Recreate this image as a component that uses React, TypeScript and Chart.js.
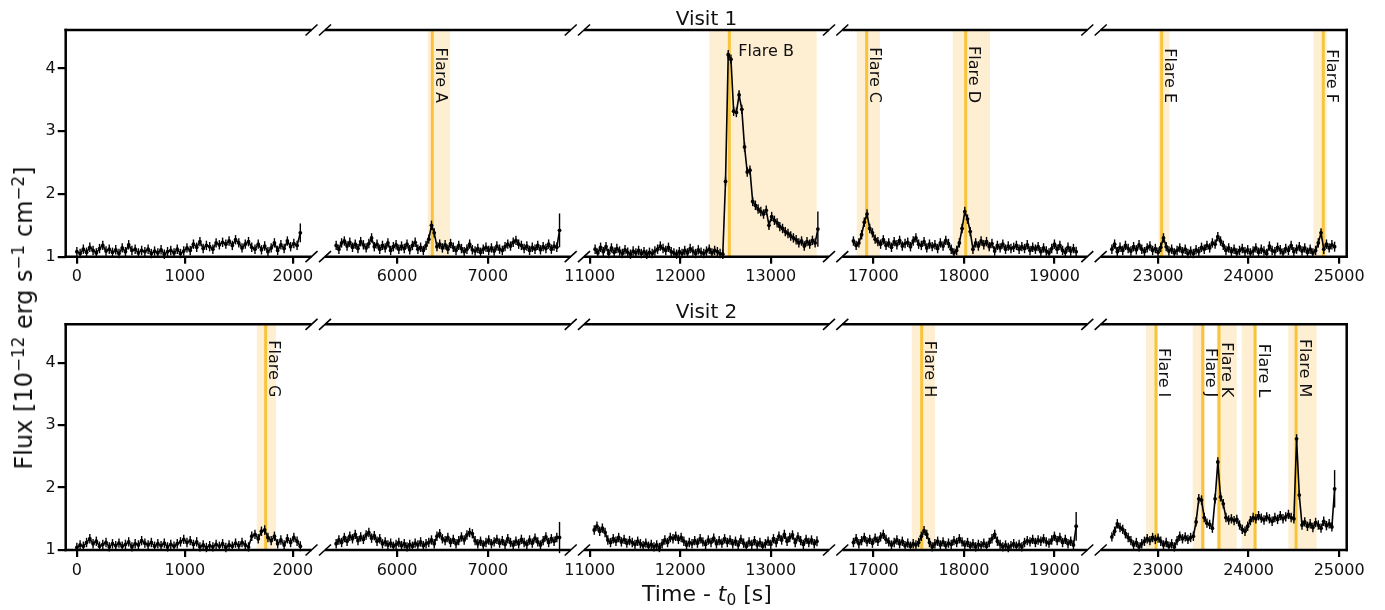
import { useEffect, useRef } from "react";
import { Chart, registerables } from "chart.js";

Chart.register(...registerables);

const FIG_W = 1385;
const FIG_H = 610;
const FONT = "'DejaVu Sans', sans-serif";

// ---------- axes of the five broken-axis columns ----------
const COL_MIN = [-103.5, 5207, 10937, 16657, 22366.5];
const COL_MAX = [2173.5, 7913, 13643, 19363, 25083.5];
const COL_TICKS = [
  [0, 1000, 2000],
  [6000, 7000],
  [11000, 12000, 13000],
  [17000, 18000, 19000],
  [23000, 24000, 25000],
];
const Y_TICKS = [1, 2, 3, 4];
const Y_MIN = 1;
const Y_MAX = 4.615;

// ---------- light-curve data (30 s bins) ----------
const BIN_S = 30;
const V1_START = [0, 5330, 11060, 16780, 22490];
const V2_START = [0, 5330, 11050, 16780, 22490];
const FLUX_ERR = 0.075;
const V1_LAST_ERR = [0.15, 0.27, 0.28, 0.08, 0.08];
const V2_LAST_ERR = [0.08, 0.25, 0.08, 0.23, 0.3];

const V1_FLUX_1 = [
  1.08, 1.05, 1.12, 1.07, 1.15, 1.1, 1.06, 1.13, 1.18, 1.09, 1.12,
  1.07, 1.11, 1.05, 1.14, 1.08, 1.19, 1.1, 1.12, 1.06, 1.1, 1.08,
  1.12, 1.05, 1.09, 1.06, 1.11, 1.04, 1.08, 1.1, 1.06, 1.12, 1.05, 1.09,
  1.14, 1.1, 1.2, 1.15, 1.24, 1.13, 1.18, 1.16, 1.12, 1.22, 1.19,
  1.23, 1.2, 1.25, 1.18, 1.27, 1.22, 1.14, 1.2, 1.24, 1.15, 1.12,
  1.2, 1.11, 1.17, 1.08, 1.14, 1.22, 1.1, 1.19, 1.13, 1.25, 1.16, 1.21, 1.18, 1.38,
];
const V1_FLUX_2 = [
  1.18, 1.12, 1.22, 1.25, 1.17, 1.23, 1.15, 1.2, 1.13, 1.24, 1.19,
  1.14, 1.21, 1.3, 1.16, 1.2, 1.12, 1.18, 1.14, 1.22, 1.1, 1.16,
  1.19, 1.12, 1.17, 1.13, 1.2, 1.11, 1.18, 1.23, 1.12, 1.15, 1.1,
  1.18, 1.28, 1.5, 1.38, 1.16, 1.2, 1.14, 1.19, 1.12, 1.21, 1.15,
  1.1, 1.18, 1.13, 1.08, 1.12, 1.2, 1.11, 1.09, 1.13, 1.07, 1.12,
  1.15, 1.1, 1.14, 1.09, 1.17, 1.12, 1.1, 1.16, 1.2, 1.17, 1.23,
  1.26, 1.2, 1.18, 1.13, 1.17, 1.1, 1.15, 1.12, 1.18, 1.11, 1.16,
  1.13, 1.2, 1.12, 1.17, 1.15, 1.42,
];
const V1_FLUX_3 = [
  1.12, 1.06, 1.15, 1.08, 1.16, 1.05, 1.14, 1.07, 1.13, 1.09,
  1.05, 1.11, 1.07, 1.04, 1.09, 1.06, 1.1, 1.05, 1.08, 1.04,
  1.07, 1.05, 1.09, 1.12, 1.17, 1.13, 1.1, 1.15, 1.08, 1.06,
  1.04, 1.08, 1.05, 1.1, 1.06, 1.13, 1.09, 1.05, 1.11, 1.07,
  1.05, 1.09, 1.12, 1.06, 1.1, 1.08, 1.05, 1.04,
  2.2, 4.22, 4.15, 3.32, 3.3, 3.58, 3.35, 2.75, 2.35, 2.38,
  1.88, 1.82, 1.76, 1.72, 1.68, 1.74, 1.5, 1.64, 1.58, 1.54,
  1.48, 1.45, 1.4, 1.37, 1.33, 1.3, 1.27, 1.22, 1.25, 1.17,
  1.24, 1.2, 1.26, 1.22, 1.44,
];
const V1_FLUX_4 = [
  1.25, 1.18, 1.22, 1.35, 1.55, 1.68, 1.45, 1.38, 1.28, 1.24,
  1.2, 1.27, 1.18, 1.22, 1.15, 1.24, 1.19, 1.26, 1.17, 1.21,
  1.23, 1.16, 1.25, 1.3, 1.2, 1.18, 1.24, 1.14, 1.2, 1.16,
  1.19, 1.13, 1.22, 1.17, 1.26, 1.21, 1.12, 1.06, 1.1, 1.22,
  1.45, 1.72, 1.6, 1.4, 1.12, 1.22, 1.17, 1.25, 1.19, 1.24,
  1.16, 1.21, 1.09, 1.18, 1.14, 1.2, 1.12, 1.17, 1.13, 1.15,
  1.18, 1.12, 1.16, 1.13, 1.19, 1.1, 1.15, 1.12, 1.16, 1.08,
  1.14, 1.09, 1.06, 1.13, 1.2, 1.12, 1.18, 1.1, 1.07, 1.15,
  1.09, 1.13, 1.08,
];
const V1_FLUX_5 = [
  1.12, 1.2, 1.08, 1.15, 1.1, 1.18, 1.13, 1.09, 1.16, 1.11,
  1.19, 1.12, 1.08, 1.14, 1.17, 1.1, 1.13, 1.07, 1.15, 1.3,
  1.16, 1.09, 1.12, 1.06, 1.1, 1.14, 1.08, 1.12, 1.05, 1.09,
  1.05, 1.11, 1.08, 1.15, 1.12, 1.18, 1.14, 1.22, 1.2, 1.32,
  1.25, 1.18, 1.1, 1.14, 1.08, 1.12, 1.06, 1.1, 1.13, 1.08,
  1.11, 1.06, 1.09, 1.14, 1.07, 1.12, 1.09, 1.05, 1.17, 1.1,
  1.08, 1.15, 1.11, 1.06, 1.13, 1.1, 1.18, 1.08, 1.12, 1.16,
  1.09, 1.14, 1.07, 1.12, 1.06, 1.1, 1.22, 1.38, 1.12, 1.2,
  1.14, 1.19, 1.16,
];

const V2_FLUX_1 = [
  1.04, 1.08, 1.06, 1.12, 1.18, 1.1, 1.14, 1.06, 1.09, 1.12,
  1.05, 1.1, 1.07, 1.11, 1.06, 1.09, 1.13, 1.05, 1.1, 1.08,
  1.15, 1.11, 1.08, 1.12, 1.06, 1.1, 1.07, 1.11, 1.05, 1.09,
  1.06, 1.1, 1.13, 1.17, 1.12, 1.15, 1.09, 1.13, 1.05, 1.08,
  1.04, 1.07, 1.05, 1.09, 1.06, 1.1, 1.04, 1.08, 1.06, 1.11,
  1.07, 1.12, 1.08, 1.05, 1.22, 1.25, 1.18, 1.3, 1.32, 1.2,
  1.15, 1.22, 1.1, 1.16, 1.08, 1.18, 1.12, 1.2, 1.14, 1.06,
];
const V2_FLUX_2 = [
  1.1, 1.16, 1.12, 1.2, 1.14, 1.22, 1.18, 1.25, 1.15, 1.21,
  1.17, 1.24, 1.28, 1.19, 1.23, 1.14, 1.18, 1.1, 1.13, 1.08,
  1.11, 1.06, 1.09, 1.12, 1.07, 1.1, 1.05, 1.09, 1.06, 1.11,
  1.08, 1.13, 1.07, 1.1, 1.12, 1.16, 1.1, 1.22, 1.26, 1.18,
  1.15, 1.2, 1.12, 1.17, 1.1, 1.15, 1.21, 1.16, 1.24, 1.28,
  1.26, 1.15, 1.1, 1.14, 1.08, 1.12, 1.16, 1.1, 1.13, 1.17,
  1.11, 1.15, 1.09, 1.18, 1.12, 1.08, 1.14, 1.1, 1.17, 1.12,
  1.09, 1.16, 1.11, 1.19, 1.13, 1.08, 1.15, 1.21, 1.12, 1.18,
  1.14, 1.2, 1.2,
];
const V2_FLUX_3 = [
  1.32, 1.38, 1.3, 1.35, 1.28, 1.16, 1.12, 1.18, 1.14, 1.2,
  1.13, 1.17, 1.11, 1.15, 1.12, 1.09, 1.14, 1.1, 1.07, 1.11,
  1.06, 1.09, 1.05, 1.08, 1.04, 1.1, 1.16, 1.12, 1.2, 1.18,
  1.22, 1.17, 1.2, 1.14, 1.08, 1.12, 1.1, 1.15, 1.11, 1.18,
  1.13, 1.09, 1.16, 1.12, 1.19, 1.1, 1.15, 1.11, 1.18, 1.12,
  1.16, 1.1, 1.14, 1.08, 1.17, 1.11, 1.06, 1.13, 1.09, 1.15,
  1.08, 1.12, 1.06, 1.1, 1.14, 1.09, 1.18, 1.12, 1.22, 1.16,
  1.25, 1.14, 1.2, 1.24, 1.12, 1.21, 1.15, 1.09, 1.17, 1.12,
  1.16, 1.1, 1.14,
];
const V2_FLUX_4 = [
  1.12, 1.18, 1.1, 1.15, 1.2, 1.13, 1.17, 1.11, 1.19, 1.14,
  1.21, 1.25, 1.17, 1.13, 1.08, 1.12, 1.16, 1.1, 1.14, 1.07,
  1.11, 1.06, 1.1, 1.08, 1.12, 1.22, 1.31, 1.25, 1.12, 1.05,
  1.1, 1.14, 1.08, 1.13, 1.07, 1.11, 1.09, 1.15, 1.12, 1.18,
  1.13, 1.08, 1.12, 1.06, 1.1, 1.05, 1.09, 1.07, 1.11, 1.06,
  1.12, 1.18, 1.25, 1.14, 1.09, 1.05, 1.08, 1.04, 1.07, 1.1,
  1.06, 1.09, 1.05, 1.12, 1.15, 1.13, 1.17, 1.12, 1.16, 1.14,
  1.18, 1.13, 1.11, 1.16, 1.22, 1.15, 1.2, 1.12, 1.17, 1.1,
  1.14, 1.08, 1.38,
];
const V2_FLUX_5 = [
  1.21, 1.3, 1.42, 1.36, 1.33, 1.26, 1.2, 1.15, 1.08, 1.12,
  1.05, 1.1, 1.14, 1.18, 1.15, 1.2, 1.17, 1.19, 1.14, 1.08,
  1.12, 1.06, 1.1, 1.05, 1.15, 1.22, 1.18, 1.21, 1.17, 1.2,
  1.22, 1.45, 1.82, 1.8, 1.52, 1.43, 1.41, 1.35, 1.82, 2.41,
  1.85, 1.74, 1.52, 1.48, 1.5, 1.47, 1.49, 1.4, 1.33, 1.3,
  1.38, 1.47, 1.52, 1.5, 1.55, 1.51, 1.48, 1.53, 1.5, 1.46,
  1.52, 1.49, 1.55, 1.5, 1.53, 1.57, 1.52, 1.5, 2.78, 1.88,
  1.4, 1.45, 1.38, 1.42, 1.36, 1.44, 1.4, 1.35, 1.46, 1.39,
  1.42, 1.37, 1.98,
];

const V1_FLUX = [V1_FLUX_1, V1_FLUX_2, V1_FLUX_3, V1_FLUX_4, V1_FLUX_5];
const V2_FLUX = [V2_FLUX_1, V2_FLUX_2, V2_FLUX_3, V2_FLUX_4, V2_FLUX_5];

// ---------- flares: peak line and highlighted interval ----------
const V1_FLARE_NAMES = ["A", "B", "C", "D", "E", "F"];
const V1_FLARE_PEAK = [6389, 12542, 16926, 18020, 23040, 24825];
const V1_FLARE_START = [6338, 12321, 16816, 17877, 23003, 24715];
const V1_FLARE_END = [6584, 13507, 17073, 18288, 23125, 24863];
const V2_FLARE_NAMES = ["G", "H", "I", "J", "K", "L", "M"];
const V2_FLARE_PEAK = [1749, 17534, 22977, 23493, 23673, 24071, 24524];
const V2_FLARE_START = [1666, 17424, 22867, 23383, 23648, 23924, 24438];
const V2_FLARE_END = [1845, 17681, 22995, 23519, 23869, 24089, 24752];

// ---------- layout (pixels) ----------
const COL_LEFT = [65.7, 325, 584, 842.3, 1100.7];
const COL_RIGHT = [311.5, 570.7, 829, 1087.3, 1346.7];
const ROW_TOP = [30, 324.3];
const ROW_BOTTOM = [256.7, 550];
const X_AXIS_H = 30;
const Y_AXIS_W = 45;

const SHADE_COLOR = "rgba(250, 190, 80, 0.25)";
const PEAK_COLOR = "#f8c43c";
const INK = "#111";

function Panel({ row, col }: { row: number; col: number }) {
  const ref = useRef<HTMLCanvasElement | null>(null);

  useEffect(() => {
    const canvas = ref.current;
    if (!canvas) return;
    const flux = (row === 0 ? V1_FLUX : V2_FLUX)[col];
    const start = (row === 0 ? V1_START : V2_START)[col];
    const lastErr = (row === 0 ? V1_LAST_ERR : V2_LAST_ERR)[col];
    const names = row === 0 ? V1_FLARE_NAMES : V2_FLARE_NAMES;
    const peaks = row === 0 ? V1_FLARE_PEAK : V2_FLARE_PEAK;
    const starts = row === 0 ? V1_FLARE_START : V2_FLARE_START;
    const ends = row === 0 ? V1_FLARE_END : V2_FLARE_END;
    const flares = names
      .map((n, i) => ({ name: n, peak: peaks[i], start: starts[i], end: ends[i] }))
      .filter((f) => f.peak >= COL_MIN[col] && f.peak <= COL_MAX[col]);

    const L = COL_LEFT[col];
    const R = COL_RIGHT[col];
    const T = ROW_TOP[row];
    const B = ROW_BOTTOM[row];
    const showY = col === 0;

    const points = flux.map((v, i) => ({ x: start + i * BIN_S, y: v }));

    const decor = {
      id: "decor" + row + col,
      beforeDraw(chart: any) {
        const { ctx, chartArea: a, scales } = chart;
        const xs = scales.x;
        ctx.save();
        ctx.beginPath();
        ctx.rect(a.left, a.top, a.right - a.left, a.bottom - a.top);
        ctx.clip();
        ctx.fillStyle = SHADE_COLOR;
        for (const f of flares) {
          const x0 = xs.getPixelForValue(f.start);
          const x1 = xs.getPixelForValue(f.end);
          ctx.fillRect(x0, a.top, x1 - x0, a.bottom - a.top);
        }
        ctx.strokeStyle = PEAK_COLOR;
        ctx.lineWidth = 3;
        for (const f of flares) {
          const xp = xs.getPixelForValue(f.peak);
          ctx.beginPath();
          ctx.moveTo(xp, a.top);
          ctx.lineTo(xp, a.bottom);
          ctx.stroke();
        }
        ctx.restore();
      },
      beforeDatasetsDraw(chart: any) {
        const { ctx, scales } = chart;
        const xs = scales.x;
        const ys = scales.y;
        ctx.save();
        ctx.strokeStyle = "#000";
        ctx.lineWidth = 1.4;
        flux.forEach((v, i) => {
          const e = i === flux.length - 1 ? lastErr : FLUX_ERR;
          const xp = xs.getPixelForValue(start + i * BIN_S);
          ctx.beginPath();
          ctx.moveTo(xp, ys.getPixelForValue(v - e));
          ctx.lineTo(xp, ys.getPixelForValue(v + e));
          ctx.stroke();
        });
        ctx.restore();
      },
      afterDraw(chart: any) {
        const { ctx, chartArea: a, scales } = chart;
        const xs = scales.x;
        ctx.save();
        // flare labels
        ctx.fillStyle = INK;
        ctx.font = "16px " + FONT;
        for (const f of flares) {
          const xp = xs.getPixelForValue(f.peak);
          const label = "Flare " + f.name;
          if (f.name === "B") {
            ctx.textAlign = "left";
            ctx.textBaseline = "alphabetic";
            ctx.fillText(label, xp + 9, a.top + 26);
          } else {
            ctx.save();
            ctx.translate(xp + 3.5, a.top + 73);
            ctx.rotate(Math.PI / 2);
            ctx.textAlign = "right";
            ctx.textBaseline = "alphabetic";
            ctx.fillText(label, 0, 0);
            ctx.restore();
          }
        }
        // spines
        ctx.strokeStyle = "#000";
        ctx.lineWidth = 2.5;
        ctx.lineCap = "butt";
        const ext = 1.25;
        const l0 = col === 0 ? a.left - ext : a.left;
        const r0 = col === 4 ? a.right + ext : a.right;
        const seg = (x1: number, y1: number, x2: number, y2: number) => {
          ctx.beginPath();
          ctx.moveTo(x1, y1);
          ctx.lineTo(x2, y2);
          ctx.stroke();
        };
        seg(l0, a.top, r0, a.top);
        seg(l0, a.bottom, r0, a.bottom);
        if (col === 0) seg(a.left, a.top - ext, a.left, a.bottom + ext);
        if (col === 4) seg(a.right, a.top - ext, a.right, a.bottom + ext);
        // break marks
        ctx.lineWidth = 1.6;
        const mark = (x: number, y: number) => seg(x - 6, y + 5.5, x + 6, y - 5.5);
        if (col > 0) {
          mark(a.left, a.top);
          mark(a.left, a.bottom);
        }
        if (col < 4) {
          mark(a.right, a.top);
          mark(a.right, a.bottom);
        }
        ctx.restore();
      },
    };

    const tickFont = { family: FONT, size: 16 };

    const chart = new Chart(canvas, {
      type: "line",
      data: {
        datasets: [
          {
            data: points,
            borderColor: "#000",
            borderWidth: 1.6,
            pointRadius: 1.9,
            pointBackgroundColor: "#000",
            pointBorderWidth: 0,
            tension: 0,
          },
        ],
      },
      options: {
        responsive: false,
        maintainAspectRatio: false,
        animation: false,
        events: [],
        layout: {
          padding: {
            left: showY ? L - Y_AXIS_W : L,
            right: FIG_W - R,
            top: T,
            bottom: FIG_H - B - X_AXIS_H,
          },
        },
        plugins: {
          legend: { display: false },
          tooltip: { enabled: false },
          title: { display: false },
        },
        scales: {
          x: {
            type: "linear",
            min: COL_MIN[col],
            max: COL_MAX[col],
            afterBuildTicks: (s: any) => {
              s.ticks = COL_TICKS[col].map((v) => ({ value: v }));
            },
            afterFit: (s: any) => {
              s.height = X_AXIS_H;
            },
            grid: {
              display: true,
              drawOnChartArea: false,
              drawTicks: true,
              tickLength: 7,
              tickWidth: 2.2,
              tickColor: "#000",
              color: "#000",
              lineWidth: 2.2,
            },
            border: { display: false },
            ticks: {
              autoSkip: false,
              maxRotation: 0,
              minRotation: 0,
              padding: 4,
              color: INK,
              font: tickFont,
              callback: (v: any) => String(v),
            },
          },
          y: {
            type: "linear",
            display: showY,
            min: Y_MIN,
            max: Y_MAX,
            afterBuildTicks: (s: any) => {
              s.ticks = Y_TICKS.map((v) => ({ value: v }));
            },
            afterFit: (s: any) => {
              if (showY) s.width = Y_AXIS_W;
            },
            grid: {
              display: true,
              drawOnChartArea: false,
              drawTicks: true,
              tickLength: 8,
              tickWidth: 2.2,
              tickColor: "#000",
              color: "#000",
              lineWidth: 2.2,
            },
            border: { display: false },
            ticks: {
              padding: 2,
              color: INK,
              font: tickFont,
              callback: (v: any) => String(v),
            },
          },
        },
      },
      plugins: [decor],
    } as any);

    return () => chart.destroy();
  }, [row, col]);

  return (
    <canvas
      ref={ref}
      width={FIG_W}
      height={FIG_H}
      style={{ position: "absolute", left: 0, top: 0, width: FIG_W, height: FIG_H }}
    />
  );
}

const supStyle: any = { fontSize: "0.7em", position: "relative", top: "-0.5em" };

export default function App() {
  const cells: { row: number; col: number }[] = [];
  for (let r = 0; r < 2; r++) for (let c = 0; c < 5; c++) cells.push({ row: r, col: c });
  return (
    <div
      style={{
        position: "absolute",
        left: 0,
        top: 0,
        width: FIG_W,
        height: FIG_H,
        background: "#fff",
        overflow: "hidden",
        fontFamily: FONT,
        color: INK,
      }}
    >
      {cells.map((c) => (
        <Panel key={c.row + "-" + c.col} row={c.row} col={c.col} />
      ))}
      <div
        style={{
          position: "absolute",
          left: 706.5,
          top: 8.1,
          transform: "translateX(-50%)",
          fontSize: 20,
          lineHeight: "20px",
          whiteSpace: "nowrap",
        }}
      >
        Visit 1
      </div>
      <div
        style={{
          position: "absolute",
          left: 706.5,
          top: 301.1,
          transform: "translateX(-50%)",
          fontSize: 20,
          lineHeight: "20px",
          whiteSpace: "nowrap",
        }}
      >
        Visit 2
      </div>
      <div
        style={{
          position: "absolute",
          left: 707,
          top: 583,
          transform: "translateX(-50%)",
          fontSize: 22,
          lineHeight: "22px",
          whiteSpace: "nowrap",
        }}
      >
        Time - <span style={{ fontStyle: "italic" }}>t</span>
        <span style={{ fontSize: "0.7em", position: "relative", top: "0.25em" }}>0</span> [s]
      </div>
      <div
        style={{
          position: "absolute",
          left: 25,
          top: 318,
          transform: "translate(-50%, -50%) rotate(-90deg)",
          fontSize: 24,
          lineHeight: "24px",
          whiteSpace: "nowrap",
        }}
      >
        Flux [10<span style={supStyle}>−12</span> erg s<span style={supStyle}>−1</span> cm
        <span style={supStyle}>−2</span>]
      </div>
    </div>
  );
}
